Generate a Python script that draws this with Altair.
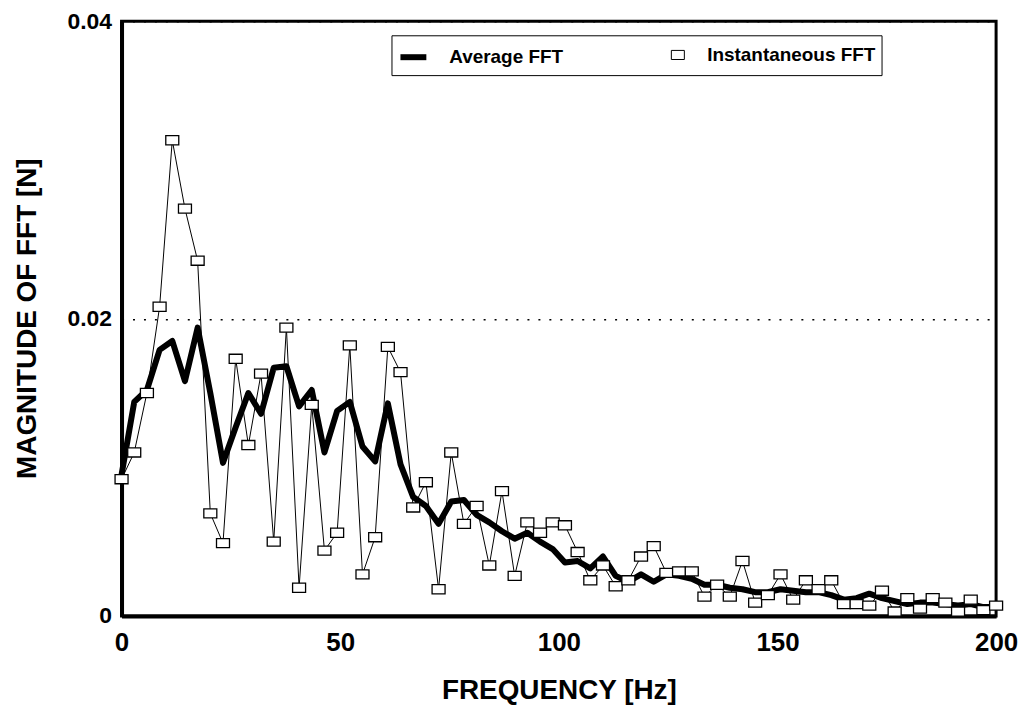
import altair as alt
import pandas as pd

# ---- data ----
freq = [0.0, 2.9, 5.8, 8.7, 11.6, 14.5, 17.4, 20.3, 23.2, 26.1,
        29.0, 31.9, 34.8, 37.7, 40.6, 43.5, 46.4, 49.3, 52.2, 55.1,
        58.0, 60.9, 63.8, 66.7, 69.6, 72.5, 75.4, 78.3, 81.2, 84.1,
        87.0, 89.9, 92.8, 95.7, 98.6, 101.4, 104.3, 107.2, 110.1, 113.0,
        115.9, 118.8, 121.7, 124.6, 127.5, 130.4, 133.3, 136.2, 139.1, 142.0,
        144.9, 147.8, 150.7, 153.6, 156.5, 159.4, 162.3, 165.2, 168.1, 171.0,
        173.9, 176.8, 179.7, 182.6, 185.5, 188.4, 191.3, 194.2, 197.1, 200.0]

average_fft = [0.0095, 0.0144, 0.0152, 0.0179, 0.0185, 0.0158, 0.0194, 0.0150, 0.0103, 0.0127,
               0.0150, 0.0136, 0.0167, 0.0168, 0.0141, 0.0152, 0.0110, 0.0138, 0.0144, 0.0114,
               0.0104, 0.0143, 0.0102, 0.0080, 0.0074, 0.0062, 0.0077, 0.0078, 0.0068, 0.0063,
               0.0057, 0.0052, 0.0056, 0.0050, 0.0045, 0.0036, 0.0037, 0.0032, 0.0040, 0.0027,
               0.0023, 0.0028, 0.0023, 0.0028, 0.0027, 0.0025, 0.0021, 0.0021, 0.0019, 0.0018,
               0.0016, 0.0016, 0.0018, 0.0017, 0.0016, 0.0016, 0.0014, 0.0011, 0.0012, 0.0015,
               0.0012, 0.0010, 0.0008, 0.0009, 0.0009, 0.0008, 0.0007, 0.0008, 0.0006, 0.0006]

instantaneous_fft = [0.0092, 0.0110, 0.0150, 0.0208, 0.0320, 0.0274, 0.0239, 0.0069, 0.0049, 0.0173,
                     0.0115, 0.0163, 0.0050, 0.0194, 0.0019, 0.0142, 0.0044, 0.0056, 0.0182, 0.0028,
                     0.0053, 0.0181, 0.0164, 0.0073, 0.0090, 0.0018, 0.0110, 0.0062, 0.0074, 0.0034,
                     0.0084, 0.0027, 0.0063, 0.0056, 0.0063, 0.0061, 0.0043, 0.0024, 0.0034, 0.0020,
                     0.0024, 0.0040, 0.0047, 0.0029, 0.0030, 0.0030, 0.0013, 0.0021, 0.0013, 0.0037,
                     0.0009, 0.0014, 0.0028, 0.0011, 0.0024, 0.0018, 0.0024, 0.0008, 0.0008, 0.0007,
                     0.0017, 0.0003, 0.0012, 0.0005, 0.0012, 0.0009, 0.0003, 0.0011, 0.0004, 0.0007]

series_names = ["Average FFT", "Instantaneous FFT"]
x_ticks = [0, 50, 100, 150, 200]
y_ticks = [0, 0.02, 0.04]

rows = []
for f, v in zip(freq, instantaneous_fft):
    rows.append({"f": f, "v": v, "s": series_names[1]})
for f, v in zip(freq, average_fft):
    rows.append({"f": f, "v": v, "s": series_names[0]})
df = pd.DataFrame(rows)
inst_df = df[df["s"] == series_names[1]]

FONT = "Liberation Sans, Arial, sans-serif"
RECT = "M-1,-0.7H1V0.7H-1Z"

legend_kw = dict(
    title=None, orient="none", legendX=271, legendY=14, direction="horizontal",
    strokeColor="black", fillColor="white", padding=6, cornerRadius=0,
    labelFont=FONT, labelFontSize=19, labelFontWeight="bold", labelColor="black",
    labelOffset=20, labelLimit=400, columnPadding=105,
    symbolFillColor="white", symbolOpacity=1,
)

x_enc = alt.X(
    "f:Q",
    scale=alt.Scale(domain=[0, 200], nice=False, zero=False),
    axis=alt.Axis(values=x_ticks, title="FREQUENCY [Hz]", grid=False, ticks=False,
                  labelFont=FONT, labelFontSize=26, labelFontWeight="bold", labelColor="black",
                  labelPadding=14, labelFlush=False,
                  titleFont=FONT, titleFontSize=28, titleFontWeight="bold", titleColor="black",
                  titleY=75, titleBaseline="middle",
                  domainColor="black", domainWidth=4),
)
y_enc = alt.Y(
    "v:Q",
    scale=alt.Scale(domain=[0, 0.04], nice=False),
    axis=alt.Axis(values=y_ticks, format="~g", title="MAGNITUDE OF FFT [N]", grid=True,
                  gridColor="black", gridDash=[2, 9], gridWidth=1.5, ticks=False,
                  labelFont=FONT, labelFontSize=23, labelFontWeight="bold", labelColor="black",
                  labelPadding=10, labelFlush=False,
                  titleFont=FONT, titleFontSize=28, titleFontWeight="bold", titleColor="black",
                  titleX=-94, titleY=298, titleAngle=270, titleAlign="center", titleBaseline="middle",
                  domainColor="black", domainWidth=4),
)

color_enc = alt.Color("s:N", scale=alt.Scale(domain=series_names, range=["black", "black"]),
                      legend=alt.Legend(**legend_kw))

lines = alt.Chart(df).mark_line(strokeJoin="round").encode(
    x=x_enc,
    y=y_enc,
    color=color_enc,
    strokeWidth=alt.StrokeWidth(
        "s:N",
        scale=alt.Scale(domain=series_names, range=[6, 1]),
        legend=alt.Legend(**legend_kw),
    ),
)

points = alt.Chart(inst_df).mark_point(
    fill="white", fillOpacity=1, opacity=1, strokeWidth=1.3
).encode(
    x=alt.X("f:Q"),
    y=alt.Y("v:Q"),
    color=color_enc,
    shape=alt.Shape("s:N", scale=alt.Scale(domain=series_names, range=["stroke", RECT]),
                    legend=alt.Legend(**legend_kw)),
    size=alt.Size("s:N", scale=alt.Scale(domain=series_names, range=[676, 170]),
                  legend=alt.Legend(**legend_kw)),
)

chart = alt.layer(lines, points).properties(
    width=878, height=597,
    background="white",
    autosize=alt.AutoSizeParams(type="none"),
    padding={"left": 114, "top": 12, "right": 24, "bottom": 95},
).configure_view(
    stroke="black", strokeWidth=3
)

chart.save("out.html", embed_options={"renderer": "svg", "actions": False})
